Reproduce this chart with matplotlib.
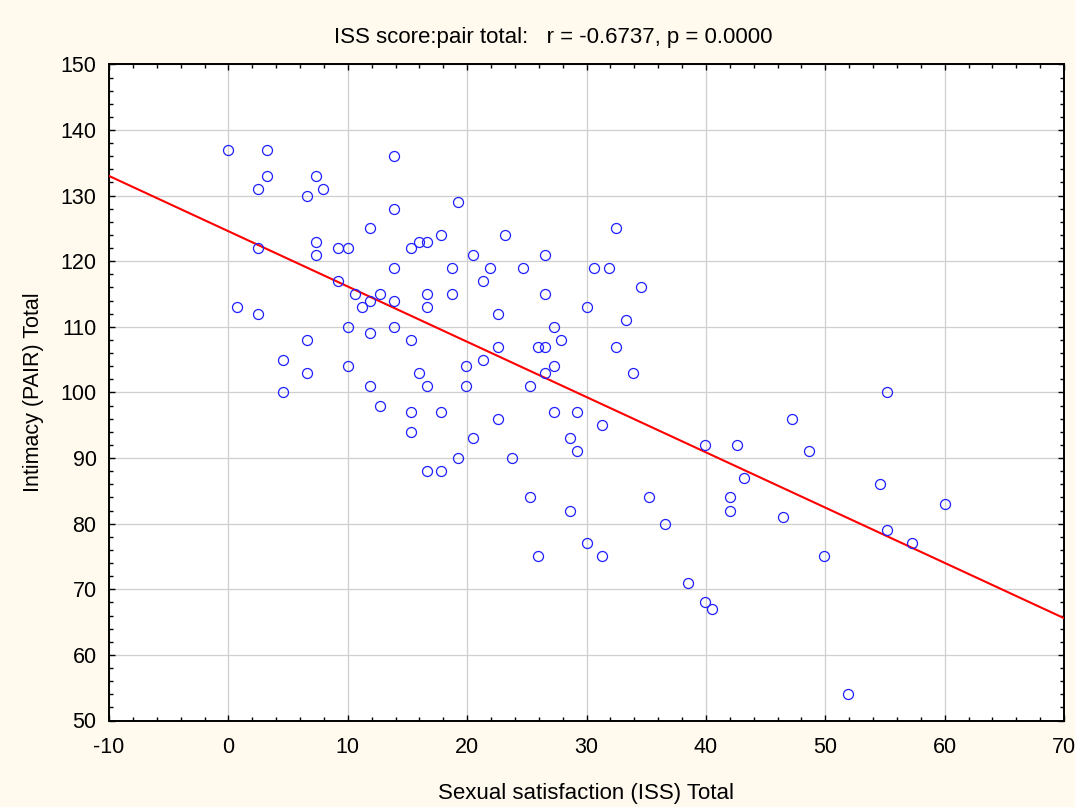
import numpy as np
import matplotlib
matplotlib.use("Agg")
import matplotlib.pyplot as plt
from matplotlib.ticker import MultipleLocator

# ---- data ----
iss_total = [
    0.0, 3.2, 3.2, 2.5, 7.3, 7.9, 6.6, 13.9, 13.9, 11.9, 19.2, 7.3, 7.3, 2.5, 9.2, 10.0,
    15.3, 16.0, 16.6, 17.8, 13.9, 18.7, 9.2, 10.6, 12.7, 11.2, 11.9, 13.9, 16.6, 16.6,
    18.7, 0.7, 2.5, 10.0, 13.9, 11.9, 6.6, 15.3, 4.6, 6.6, 10.0, 16.0, 11.9, 16.6,
    23.2, 32.5, 20.5, 26.5, 21.9, 24.7, 30.6, 31.9, 21.3, 34.6, 26.5, 30.0, 22.6, 33.3,
    27.3, 22.6, 25.9, 26.5, 27.9, 32.5, 21.3, 19.9, 27.3, 26.5, 33.9, 19.9, 25.3,
    4.6, 12.7, 15.3, 17.8, 15.3, 19.2, 16.6, 17.8,
    22.6, 27.3, 29.2, 31.3, 47.2, 20.5, 28.6, 29.2, 23.8, 39.9, 42.6, 43.2, 25.3, 35.2,
    42.0, 42.0, 28.6, 36.6, 46.5, 30.0, 25.9, 31.3, 38.5, 39.9, 40.5,
    55.2, 48.6, 54.6, 60.0, 55.2, 57.3, 49.9, 51.9,
]
pair_total = [
    137, 137, 133, 131, 133, 131, 130, 136, 128, 125, 129, 123, 121, 122, 122, 122,
    122, 123, 123, 124, 119, 119, 117, 115, 115, 113, 114, 114, 115, 113,
    115, 113, 112, 110, 110, 109, 108, 108, 105, 103, 104, 103, 101, 101,
    124, 125, 121, 121, 119, 119, 119, 119, 117, 116, 115, 113, 112, 111,
    110, 107, 107, 107, 108, 107, 105, 104, 104, 103, 103, 101, 101,
    100, 98, 97, 97, 94, 90, 88, 88,
    96, 97, 97, 95, 96, 93, 93, 91, 90, 92, 92, 87, 84, 84,
    84, 82, 82, 80, 81, 77, 75, 75, 71, 68, 67,
    100, 91, 86, 83, 79, 77, 75, 54,
]
# regression line as drawn in the reference (value at x = -10 and x = 70)
fit_x = [-10, 70]
fit_y = [133.0, 65.6]

title_text = "ISS score:pair total:   r = -0.6737, p = 0.0000"
x_label = "Sexual satisfaction (ISS) Total"
y_label = "Intimacy (PAIR) Total"

# ---- figure ----
plt.rcParams['font.family'] = ['Liberation Sans', 'DejaVu Sans']
plt.rcParams['axes.unicode_minus'] = False
bg = '#FFF9EE'
fig = plt.figure(figsize=(10.75, 8.07), dpi=100, facecolor=bg)
ax = fig.add_axes([109/1075, 1 - 720.5/807, (1064-109)/1075, (720.5-64.4)/807])
ax.set_facecolor('white')

ax.plot(fit_x, fit_y, color='#FF0000', lw=1.5, zorder=3)
ax.plot(iss_total, pair_total, linestyle='none', marker='o', markersize=7.2,
        markerfacecolor='none', markeredgecolor='#1f1fff', markeredgewidth=0.9, zorder=4)

ax.set_xlim(-10, 70)
ax.set_ylim(50, 150)
ax.xaxis.set_major_locator(MultipleLocator(10))
ax.xaxis.set_minor_locator(MultipleLocator(2))
ax.yaxis.set_major_locator(MultipleLocator(10))
ax.yaxis.set_minor_locator(MultipleLocator(2))
ax.grid(True, which='major', color='#cfcfcf', lw=0.9, zorder=0)
ax.set_axisbelow(True)

ax.tick_params(which='both', direction='in', top=True, right=True, width=1.0,
               color='black', labelsize=15.5)
ax.tick_params(which='major', length=4)
ax.tick_params(which='minor', length=3)
ax.tick_params(axis='x', which='major', pad=12)
ax.tick_params(axis='y', which='major', pad=9)
for s in ax.spines.values():
    s.set_linewidth(1.4)
    s.set_color('black')

ax.set_xlabel(x_label, fontsize=16, labelpad=18)
ax.set_ylabel(y_label, fontsize=15.5, labelpad=12)
fig.text(553/1075, 1 - 38/807, title_text, ha='center', va='center', fontsize=16)

fig.savefig('out.png', dpi=100, facecolor=bg)
